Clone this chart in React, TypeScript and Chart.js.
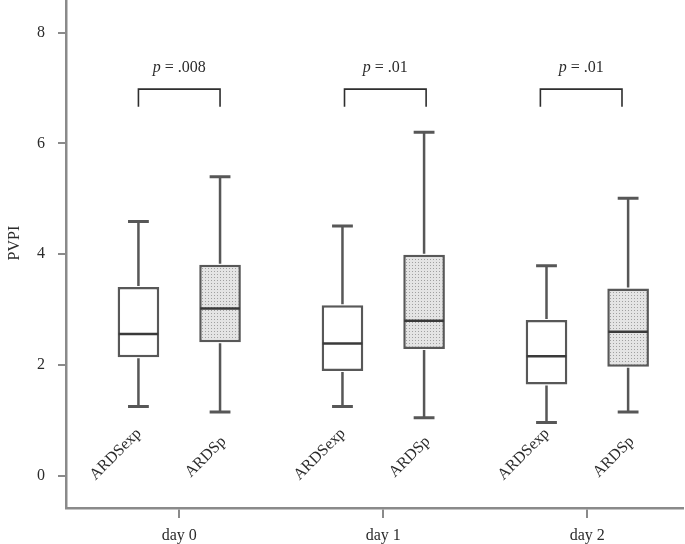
import React, { useEffect, useRef } from 'react';
import { Chart, registerables } from 'chart.js';

Chart.register(...registerables);

// ---- data ----
const dayLabels = ['day 0', 'day 1', 'day 2'];
const dayPositions = [0, 1, 2];
const groupNames = ['ARDSexp', 'ARDSp'];

const expMin = [1.25, 1.25, 0.96];
const expQ1 = [2.14, 1.89, 1.65];
const expMedian = [2.56, 2.39, 2.16];
const expQ3 = [3.41, 3.08, 2.81];
const expMax = [4.59, 4.51, 3.79];

const spMin = [1.15, 1.05, 1.15];
const spQ1 = [2.41, 2.29, 1.97];
const spMedian = [3.02, 2.8, 2.6];
const spQ3 = [3.81, 3.99, 3.38];
const spMax = [5.4, 6.2, 5.01];

const pValueLabels = ['.008', '.01', '.01'];
const pValuePositions = [0, 1.01, 1.97];
const bracketTop = 6.98;
const bracketLeg = 6.66;

const yTickValues = [0, 2, 4, 6, 8];

const FONT = '"Liberation Serif", "Times New Roman", serif';

const groupStats = [
  { min: expMin, q1: expQ1, med: expMedian, q3: expQ3, max: expMax },
  { min: spMin, q1: spQ1, med: spMedian, q3: spQ3, max: spMax },
];

// per-group label anchors (right end of rotated label), offsets from box centre
const labelDx = [3.5, 6.5];
const labelDyFromBottom = [74, 66];

function makePattern(): CanvasPattern | string {
  const c = document.createElement('canvas');
  c.width = 3;
  c.height = 3;
  const g = c.getContext('2d');
  if (!g) return '#d8d8d8';
  g.fillStyle = '#e4e4e4';
  g.fillRect(0, 0, 3, 3);
  g.fillStyle = '#a0a0a0';
  g.fillRect(1, 1, 1, 1);
  const p = g.createPattern(c, 'repeat');
  return p || '#d8d8d8';
}

const decorPlugin = {
  id: 'boxDecor',
  afterDatasetsDraw(chart: any) {
    const ctx: CanvasRenderingContext2D = chart.ctx;
    const yS = chart.scales.y;
    const xS = chart.scales.x;
    const area = chart.chartArea;

    // whiskers + medians
    groupStats.forEach((s, di) => {
      const meta = chart.getDatasetMeta(di);
      meta.data.forEach((bar: any, j: number) => {
        const { x: cx, width: w } = bar.getProps(['x', 'width'], true);
        const yMax = yS.getPixelForValue(s.max[j]);
        const yMin = yS.getPixelForValue(s.min[j]);
        const yQ1 = yS.getPixelForValue(s.q1[j]);
        const yQ3 = yS.getPixelForValue(s.q3[j]);
        const yMed = yS.getPixelForValue(s.med[j]);
        ctx.save();
        ctx.strokeStyle = '#575757';
        ctx.lineWidth = 2.5;
        ctx.beginPath();
        ctx.moveTo(cx, yQ3 - 1);
        ctx.lineTo(cx, yMax);
        ctx.moveTo(cx, yQ1 + 1);
        ctx.lineTo(cx, yMin);
        ctx.stroke();
        ctx.lineWidth = 3;
        ctx.beginPath();
        ctx.moveTo(cx - w / 4, yMax);
        ctx.lineTo(cx + w / 4, yMax);
        ctx.moveTo(cx - w / 4, yMin);
        ctx.lineTo(cx + w / 4, yMin);
        ctx.stroke();
        ctx.strokeStyle = '#3a3a3a';
        ctx.lineWidth = 2.5;
        ctx.beginPath();
        ctx.moveTo(cx - w / 2 + 1, yMed);
        ctx.lineTo(cx + w / 2 - 1, yMed);
        ctx.stroke();
        ctx.restore();

        // rotated group label
        ctx.save();
        ctx.font = `16px ${FONT}`;
        ctx.fillStyle = '#2b2b2b';
        ctx.textAlign = 'right';
        ctx.textBaseline = 'alphabetic';
        ctx.translate(cx + labelDx[di], area.bottom - labelDyFromBottom[di]);
        ctx.rotate(-Math.PI / 4);
        ctx.fillText(groupNames[di], 0, 0);
        ctx.restore();
      });
    });

    // brackets + p-values
    const m0 = chart.getDatasetMeta(0);
    const m1 = chart.getDatasetMeta(1);
    pValuePositions.forEach((pv, j) => {
      const half = (m1.data[j].x - m0.data[j].x) / 2;
      const cx = xS.getPixelForValue(pv);
      const yT = yS.getPixelForValue(bracketTop);
      const yL = yS.getPixelForValue(bracketLeg);
      ctx.save();
      ctx.strokeStyle = '#2e2e2e';
      ctx.lineWidth = 1.6;
      ctx.beginPath();
      ctx.moveTo(cx - half, yL);
      ctx.lineTo(cx - half, yT);
      ctx.lineTo(cx + half, yT);
      ctx.lineTo(cx + half, yL);
      ctx.stroke();

      ctx.fillStyle = '#2b2b2b';
      ctx.textBaseline = 'alphabetic';
      ctx.textAlign = 'left';
      const italic = `italic 16px ${FONT}`;
      const normal = `16px ${FONT}`;
      ctx.font = italic;
      const wP = ctx.measureText('p').width;
      ctx.font = normal;
      const rest = ' = ' + pValueLabels[j];
      const wR = ctx.measureText(rest).width;
      const start = cx - (wP + wR) / 2;
      const base = yT - 17.5;
      ctx.font = italic;
      ctx.fillText('p', start, base);
      ctx.font = normal;
      ctx.fillText(rest, start + wP, base);
      ctx.restore();
    });

    // y-axis title
    ctx.save();
    ctx.font = `16px ${FONT}`;
    ctx.fillStyle = '#2b2b2b';
    ctx.textAlign = 'center';
    ctx.textBaseline = 'alphabetic';
    ctx.translate(18.5, yS.getPixelForValue(4.2));
    ctx.rotate(-Math.PI / 2);
    ctx.fillText('PVPI', 0, 0);
    ctx.restore();
  },
};

export default function App() {
  const ref = useRef<HTMLCanvasElement | null>(null);

  useEffect(() => {
    if (!ref.current) return;
    const pattern = makePattern();
    const chart = new Chart(ref.current, {
      type: 'bar',
      data: {
        datasets: [
          {
            label: groupNames[0],
            data: dayPositions.map((d, i) => ({ x: d, y: [expQ1[i], expQ3[i]] })) as any,
            backgroundColor: '#ffffff',
            borderColor: '#585858',
            borderWidth: 2.5,
            borderSkipped: false,
          },
          {
            label: groupNames[1],
            data: dayPositions.map((d, i) => ({ x: d, y: [spQ1[i], spQ3[i]] })) as any,
            backgroundColor: pattern as any,
            borderColor: '#585858',
            borderWidth: 2.5,
            borderSkipped: false,
          },
        ],
      },
      options: {
        animation: false,
        responsive: true,
        maintainAspectRatio: false,
        layout: { padding: { left: 0, right: 2, top: 0, bottom: 0 } },
        plugins: {
          legend: { display: false },
          tooltip: { enabled: false },
        },
        datasets: {
          bar: { categoryPercentage: 0.8, barPercentage: 0.51, grouped: true },
        },
        scales: {
          x: {
            type: 'linear',
            offset: false,
            min: -0.555,
            max: 2.469,
            afterBuildTicks: (s: any) => {
              s.ticks = dayPositions.map((v) => ({ value: v }));
            },
            afterFit: (s: any) => {
              s.height = 36;
              s.paddingLeft = 0;
              s.paddingRight = 0;
            },
            ticks: {
              callback: (v: any) => dayLabels[dayPositions.indexOf(Number(v))] ?? '',
              font: { family: FONT, size: 16 },
              color: '#2b2b2b',
              padding: 8,
              maxRotation: 0,
              autoSkip: false,
            },
            grid: {
              offset: false,
              drawOnChartArea: false,
              drawTicks: true,
              tickLength: 10,
              color: '#8a8a8a',
              lineWidth: 2,
            },
            border: { display: true, color: '#8a8a8a', width: 2.5 },
          },
          y: {
            type: 'linear',
            min: -0.581,
            max: 8.588,
            afterBuildTicks: (s: any) => {
              s.ticks = yTickValues.map((v) => ({ value: v }));
            },
            afterFit: (s: any) => {
              s.width = 66;
              s.paddingTop = 0;
              s.paddingBottom = 0;
            },
            ticks: {
              font: { family: FONT, size: 16 },
              color: '#2b2b2b',
              padding: 13,
            },
            grid: {
              drawOnChartArea: false,
              drawTicks: true,
              tickLength: 8,
              color: '#8a8a8a',
              lineWidth: 2,
            },
            border: { display: true, color: '#8a8a8a', width: 2.5 },
          },
        },
      } as any,
      plugins: [decorPlugin],
    });
    return () => chart.destroy();
  }, []);

  return (
    <div style={{ position: 'fixed', left: 0, top: 0, width: 685, height: 544, background: '#fff' }}>
      <canvas ref={ref} />
    </div>
  );
}
